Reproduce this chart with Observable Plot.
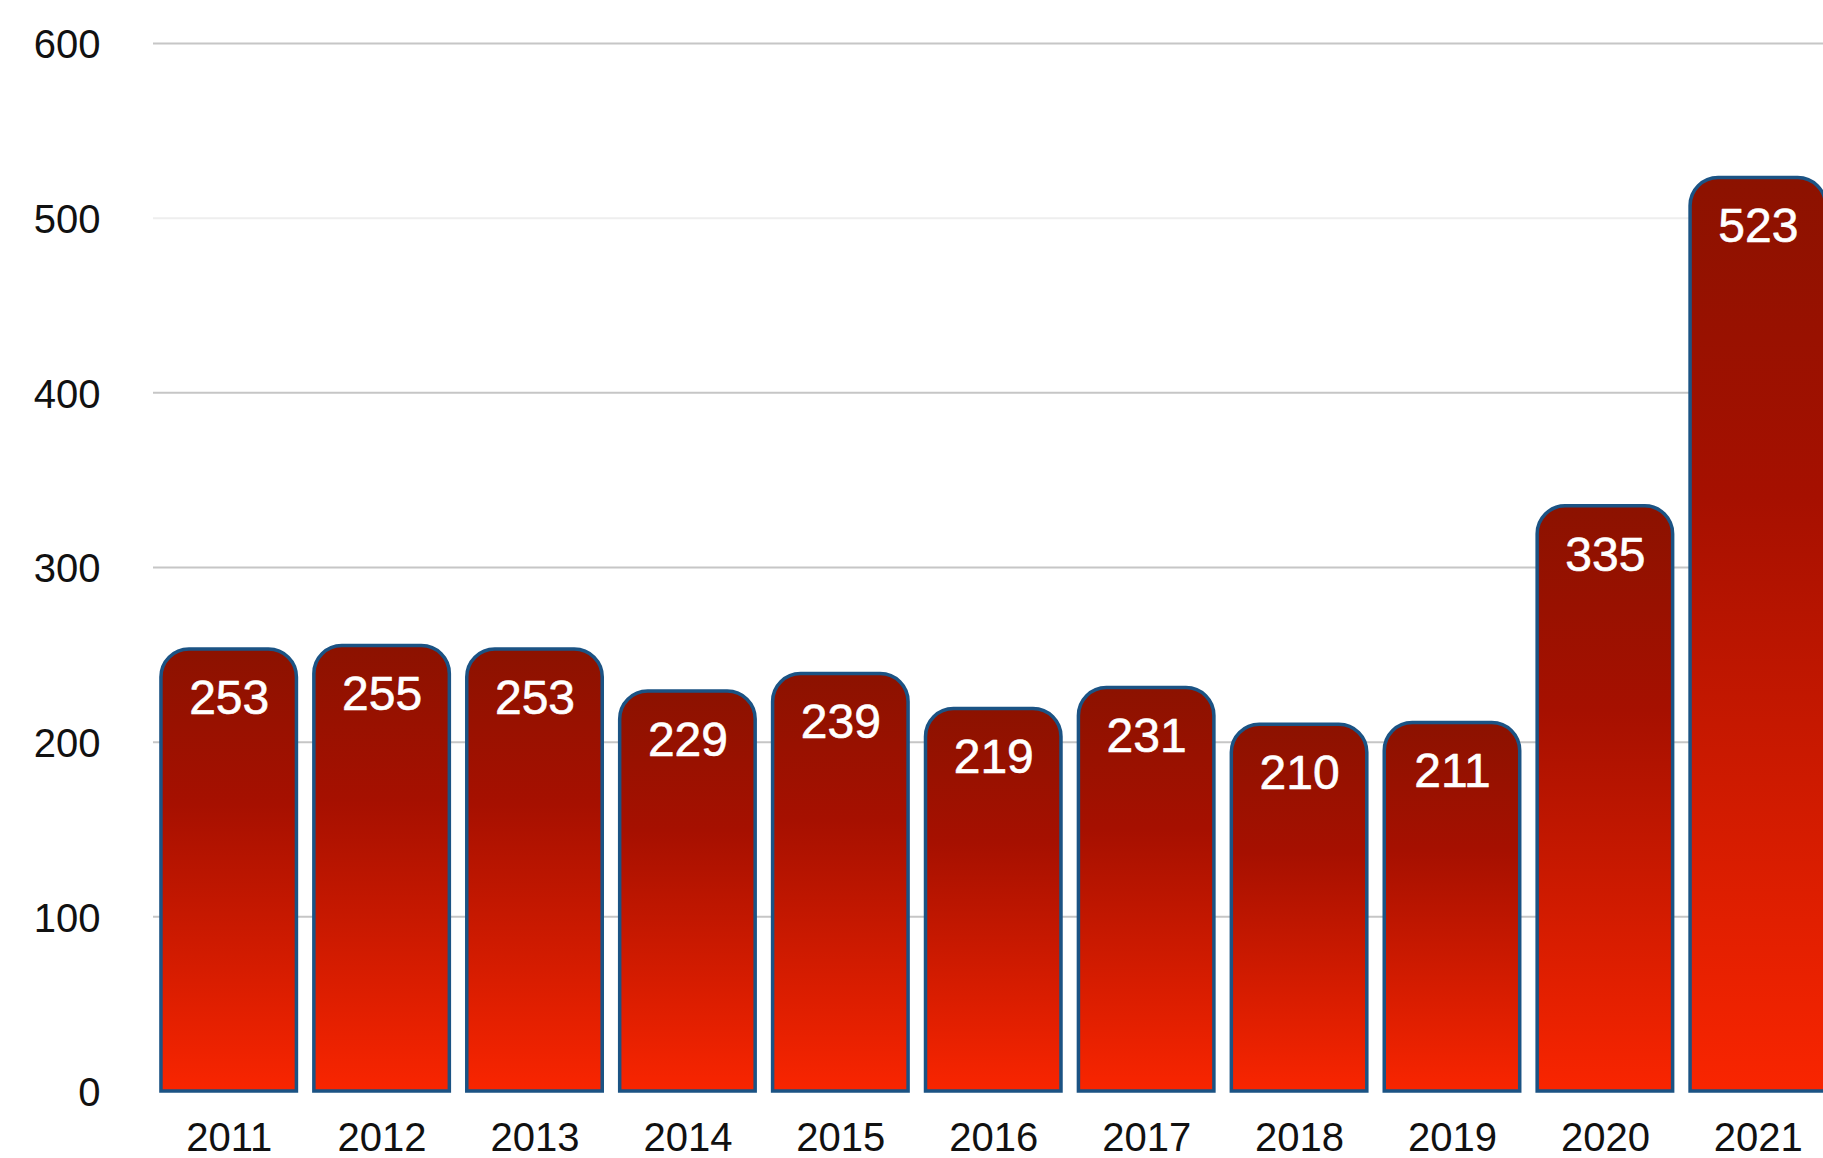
<!DOCTYPE html>
<html>
<head>
<meta charset="utf-8">
<script src="https://cdn.jsdelivr.net/npm/d3@7"></script>
<script src="https://cdn.jsdelivr.net/npm/@observablehq/plot@0.6"></script>
<style>
  html, body { margin: 0; padding: 0; background: #fff; }
  #chart svg { display: block; }
</style>
</head>
<body>
<div id="chart"></div>
<script>
const years = ["2011","2012","2013","2014","2015","2016","2017","2018","2019","2020","2021"];
const counts = [253, 255, 253, 229, 239, 219, 231, 210, 211, 335, 523];
const yTicks = [0, 100, 200, 300, 400, 500, 600];
const gridTicks = [100, 200, 300, 400, 500, 600];

const data = years.map((year, i) => ({year, count: counts[i]}));

const svg = Plot.plot({
  width: 1823,
  height: 1158,
  marginTop: 43,
  marginBottom: 67,
  marginLeft: 153,
  marginRight: -10.5,
  style: {fontFamily: "'Liberation Sans', Arial, sans-serif", background: "#fff", color: "#111"},
  x: {domain: years, round: false, paddingInner: 0.114, paddingOuter: 0.052, label: null},
  y: {domain: [0, 600], ticks: yTicks, label: null},
  marks: [
    Plot.ruleY(gridTicks, {stroke: d => d === 500 ? "#eeeeee" : "#c6c6c6", strokeWidth: 2}),
    Plot.barY(data, {x: "year", y: "count", fill: "url(#barGrad)", stroke: "#1b5384", strokeWidth: 3.5, ry1: 28}),
    Plot.text(data, {x: "year", y: "count", text: d => String(d.count), dy: 49, fill: "white", stroke: "white", strokeWidth: 0.6, fontSize: 48}),
    Plot.axisX({fontSize: 40, tickSize: 0, tickPadding: 31, label: null}),
    Plot.axisY({ticks: yTicks, fontSize: 40, tickSize: 0, tickPadding: 53, dy: 2, label: null})
  ]
});

const defs = d3.select(svg).insert("defs", ":first-child");
const g = defs.append("linearGradient").attr("id", "barGrad").attr("x1", 0).attr("y1", 0).attr("x2", 0).attr("y2", 1);
g.append("stop").attr("offset", "0%").attr("stop-color", "#8c1200");
g.append("stop").attr("offset", "35%").attr("stop-color", "#a61000");
g.append("stop").attr("offset", "100%").attr("stop-color", "#f92500");

document.getElementById("chart").appendChild(svg);
</script>
</body>
</html>
